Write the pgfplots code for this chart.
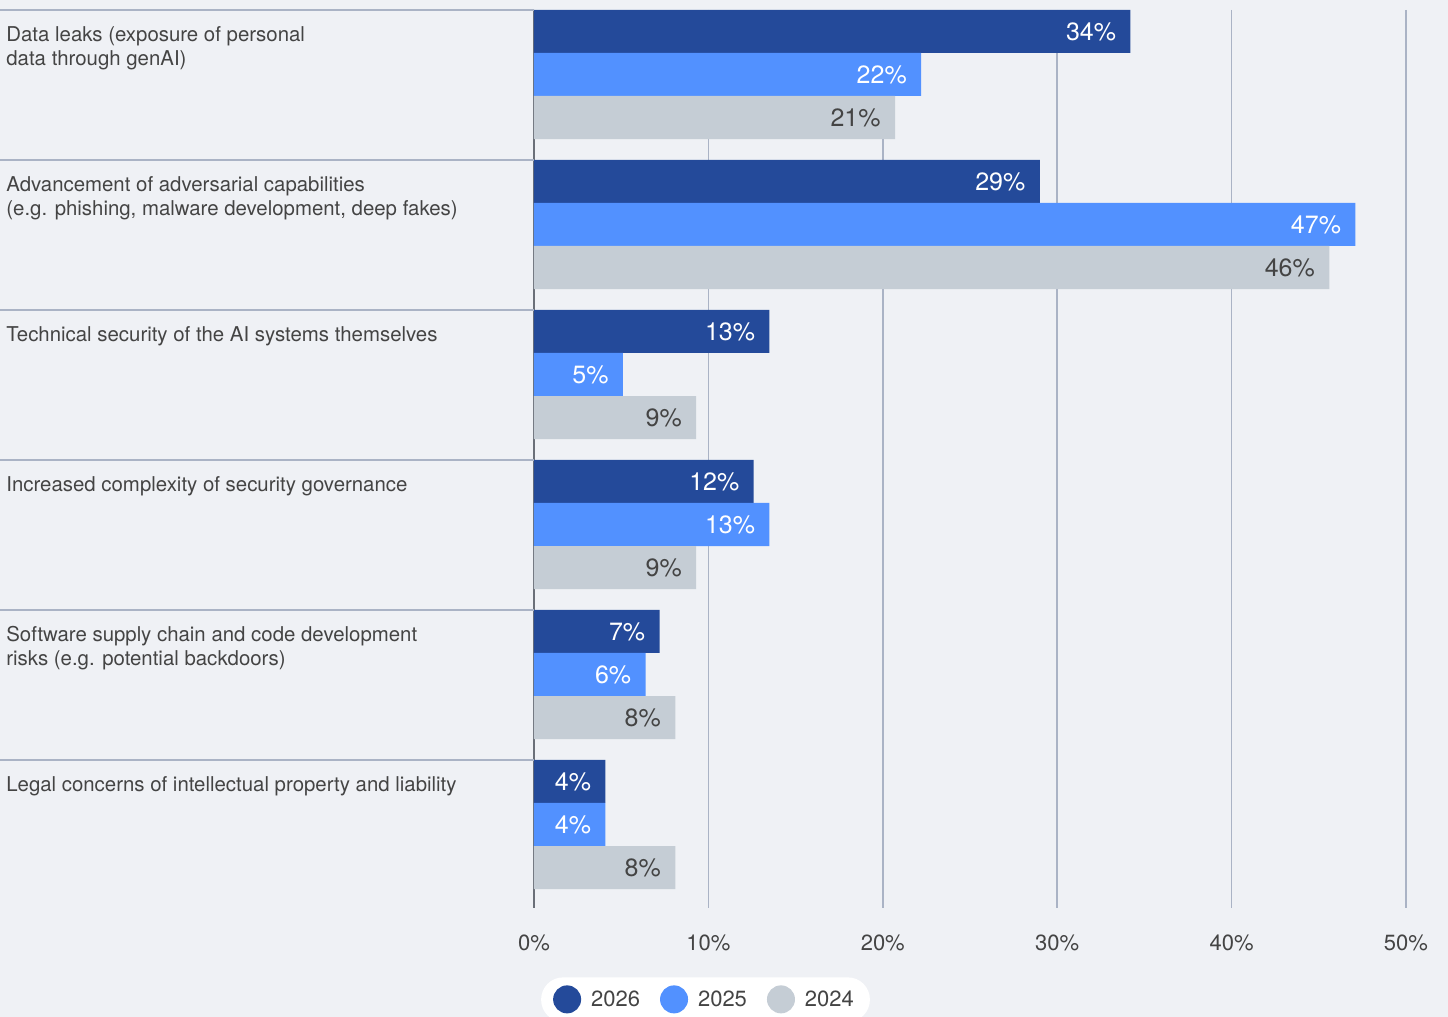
\documentclass[border=0pt]{standalone}
\usepackage{pgfplots}
\pgfplotsset{compat=1.18}
\usepackage{fontspec}
\setmainfont{TeX Gyre Heros}

\definecolor{c2026}{HTML}{244A9A}
\definecolor{c2025}{HTML}{5291FF}
\definecolor{c2024}{HTML}{C5CDD5}
\definecolor{bgcol}{HTML}{EFF1F5}
\definecolor{gridcol}{HTML}{AAB3C5}
\definecolor{axcol}{HTML}{6A6F78}
\definecolor{txtcol}{HTML}{444444}

\pgfplotsset{dotlegend/.style={legend image code/.code={\fill[##1] (7pt,0.6pt) circle (7pt);}}}

\begin{document}
\begin{tikzpicture}
\fill[bgcol] (0,0) rectangle (724pt,508.5pt);
\begin{axis}[
    at={(267pt,54.5pt)}, anchor=south west,
    scale only axis, width=436pt, height=449pt,
    xmin=0, xmax=50, ymin=0, ymax=5.9867, y dir=reverse,
    xbar, bar width=0.2867, bar shift=0pt,
    clip=false,
    axis line style={draw=none},
    tick style={draw=none},
    ytick=\empty,
    xtick={0,10,20,30,40,50},
    xticklabels={0\%,10\%,20\%,30\%,40\%,50\%},
    xticklabel style={font=\fontsize{11}{13}\selectfont, text=txtcol, yshift=-10pt},
    xmajorgrids,
    grid style={draw=gridcol, line width=0.8pt},
    extra x ticks={0},
    extra x tick labels={},
    extra x tick style={grid style={draw=axcol, line width=0.7pt}},
    point meta=explicit,
    /pgf/number format/assume math mode=true,
    nodes near coords={\pgfmathprintnumber{\pgfplotspointmeta}\%},
    every node near coord/.append style={anchor=east, inner sep=0pt, xshift=-7pt,
        font=\fontsize{12.5}{15}\selectfont},
    legend style={at={(0.1967,-0.0768)}, anchor=north, fill=white, draw=none,
        rounded corners=11pt, font=\fontsize{11}{13}\selectfont, text=txtcol,
        inner xsep=6pt, inner ysep=4pt,
        /tikz/every odd column/.append style={column sep=3pt},
        /tikz/every even column/.append style={column sep=8pt}},
    legend columns=3,
    legend cell align=left,
]
% 2026
\addplot[fill=c2026, draw=none, dotlegend,
    every node near coord/.append style={text=white}]
    table[x=x, y=y, meta=v] {
x     y       v
34.2  0.1433  34
29.0  1.1433  29
13.5  2.1433  13
12.6  3.1433  12
7.2   4.1433  7
4.1   5.1433  4
};
\addlegendentry{2026}
% 2025
\addplot[fill=c2025, draw=none, dotlegend,
    every node near coord/.append style={text=white}]
    table[x=x, y=y, meta=v] {
x     y       v
22.2  0.43    22
47.1  1.43    47
5.1   2.43    5
13.5  3.43    13
6.4   4.43    6
4.1   5.43    4
};
\addlegendentry{2025}
% 2024
\addplot[fill=c2024, draw=none, dotlegend,
    every node near coord/.append style={text=txtcol}]
    table[x=x, y=y, meta=v] {
x     y       v
20.7  0.7167  21
45.6  1.7167  46
9.3   2.7167  9
9.3   3.7167  9
8.1   4.7167  8
8.1   5.7167  8
};
\addlegendentry{2024}

% row separators on the left
\foreach \r in {0,...,5} {
    \edef\tmp{\noexpand\draw[gridcol, line width=0.8pt] (axis cs:0,\r) -- ++(-267pt,0);}
    \tmp
}
\tikzset{catlab/.style={anchor=north west, align=left, inner sep=0pt, text=txtcol,
    font=\fontsize{10.2}{12}\selectfont}}
\node[catlab] at ([xshift=-264pt, yshift=-8pt]axis cs:0,0) {Data leaks (exposure of personal\\data through genAI)};
\node[catlab] at ([xshift=-264pt, yshift=-8pt]axis cs:0,1) {Advancement of adversarial capabilities\\(e.g. phishing, malware development, deep fakes)};
\node[catlab] at ([xshift=-264pt, yshift=-8pt]axis cs:0,2) {Technical security of the AI systems themselves};
\node[catlab] at ([xshift=-264pt, yshift=-8pt]axis cs:0,3) {Increased complexity of security governance};
\node[catlab] at ([xshift=-264pt, yshift=-8pt]axis cs:0,4) {Software supply chain and code development\\risks (e.g. potential backdoors)};
\node[catlab] at ([xshift=-264pt, yshift=-8pt]axis cs:0,5) {Legal concerns of intellectual property and liability};
\end{axis}
\pgfresetboundingbox
\path[use as bounding box] (0,0) rectangle (724pt,508.5pt);
\end{tikzpicture}
\end{document}
